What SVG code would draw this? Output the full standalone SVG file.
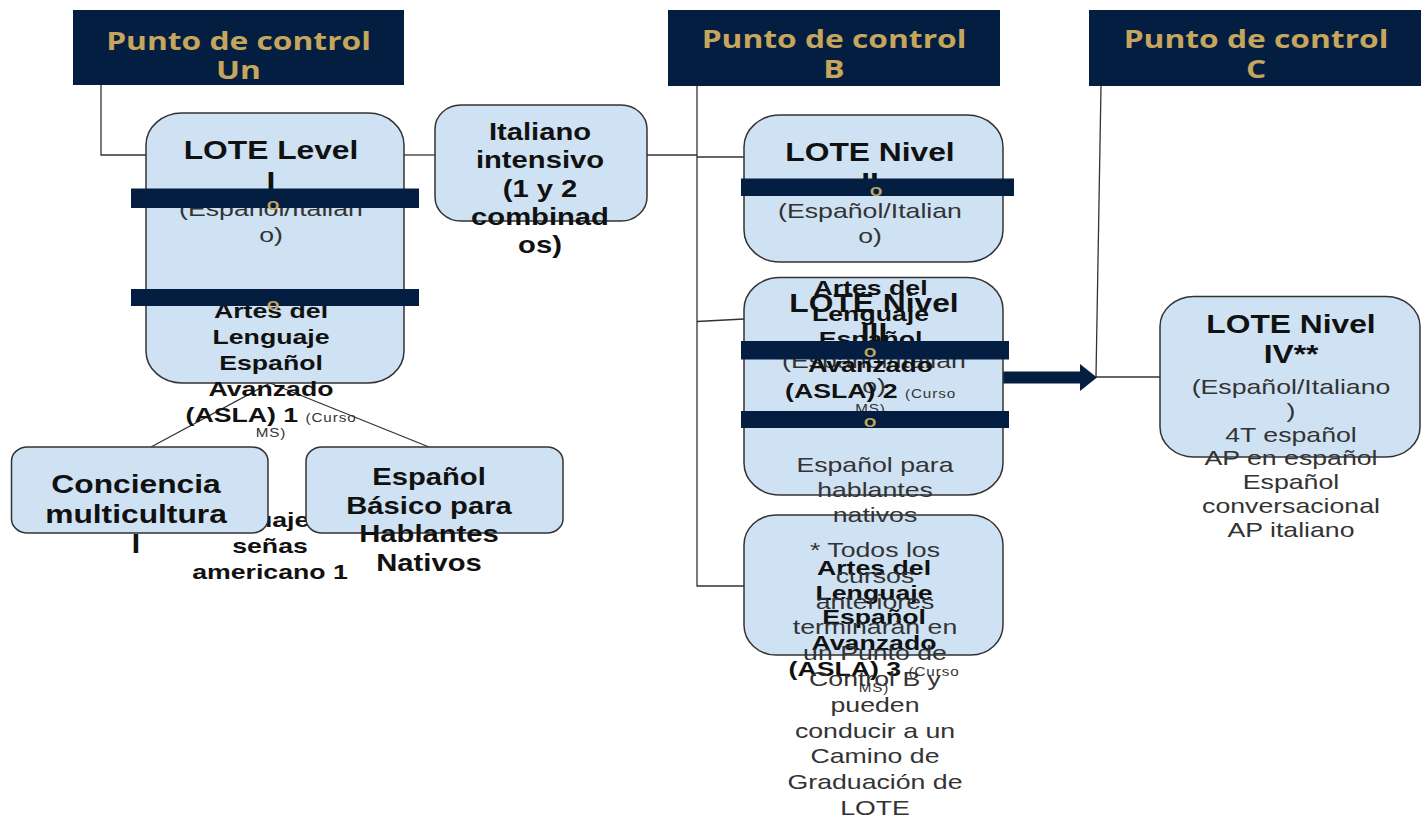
<svg xmlns="http://www.w3.org/2000/svg" width="1427" height="817" viewBox="0 0 1427 817">
<defs>
<style>
.hdr{fill:#041e42}
.bar{fill:#041e42}
.box{fill:#cfe2f3;stroke:#333;stroke-width:1.5}
.ln{stroke:#333;stroke-width:1.3;fill:none}
.ht{font-family:"Open Sans",sans-serif;font-weight:700;font-size:25px;fill:#c6a65c;text-anchor:middle}
.o{font-family:"Open Sans",sans-serif;font-weight:600;font-size:17px;fill:#c6a65c;text-anchor:middle}
.t25,.t23,.t21,.r21,.sm{font-family:"Liberation Sans",Arial,sans-serif;text-anchor:middle}
.t25{font-size:25px;font-weight:700;fill:#111}
.t23{font-size:23px;font-weight:700;fill:#111}
.t21{font-size:21px;font-weight:700;fill:#111}
.r21{font-size:21px;font-weight:400;fill:#333}
.sm{font-size:12px;font-weight:400;fill:#333;letter-spacing:0.7px}
</style>
<marker id="ah" markerUnits="userSpaceOnUse" markerWidth="17" markerHeight="27" refX="0" refY="13.5" orient="auto">
<path d="M0,0 L17,13.5 L0,27 Z" fill="#041e42"/>
</marker>
</defs>
<rect width="1427" height="817" fill="#fff"/>

<!-- headers -->
<g id="hdr-un">
<rect class="hdr" x="73" y="10" width="331" height="75"/>
<g transform="translate(238.5 0) scale(1.27 1)"><text class="ht" x="0" y="50">Punto de control</text><text class="ht" x="0" y="79">Un</text></g>
</g>
<g id="hdr-b">
<rect class="hdr" x="668" y="10" width="332" height="76"/>
<g transform="translate(834 0) scale(1.27 1)"><text class="ht" x="0" y="48.5">Punto de control</text><text class="ht" x="0" y="78.5">B</text></g>
</g>
<g id="hdr-c">
<rect class="hdr" x="1089" y="10" width="332" height="76"/>
<g transform="translate(1256 0) scale(1.27 1)"><text class="ht" x="0" y="48.5">Punto de control</text><text class="ht" x="0" y="78.5">C</text></g>
</g>

<!-- connectors -->
<g id="connectors">
<polyline class="ln" points="101,85 101,155 147,155"/>
<line class="ln" x1="404" y1="155" x2="435" y2="155"/>
<line class="ln" x1="647" y1="155" x2="697" y2="155"/>
<line class="ln" x1="697" y1="157" x2="744" y2="157"/>
<polyline class="ln" points="697,86 697,586 744,586"/>
<line class="ln" x1="697" y1="321.5" x2="744" y2="319"/>
<line class="ln" x1="1101" y1="86" x2="1096" y2="377"/>
<line class="ln" x1="1096" y1="377" x2="1160" y2="377"/>
<line class="ln" x1="270" y1="383" x2="151" y2="447"/>
<line class="ln" x1="270" y1="383" x2="429" y2="447"/>
<line x1="1003" y1="377.5" x2="1080" y2="377.5" stroke="#041e42" stroke-width="12" marker-end="url(#ah)"/>
</g>

<!-- ASL text partly hidden behind boxes -->
<g id="n-asl1">
<g transform="translate(270 0) scale(1.27 1)">
<text class="t21" x="0" y="527.5">Lenguaje de</text>
<text class="t21" x="0" y="553.3">señas</text>
<text class="t21" x="0" y="579">americano 1</text>
</g>
</g>

<g id="n-level1">
<rect class="box" x="146" y="113" width="258" height="270" rx="36" ry="32"/>
<g transform="translate(271 0) scale(1.27 1)">
<text class="t25" x="0" y="159.5">LOTE Level</text>
<text class="t25" x="0" y="190">I</text>
<text class="r21" x="0" y="216.5">(Español/Italian</text>
<text class="r21" x="0" y="241.7">o)</text>
</g>
</g>

<g id="n-asla1">
<g transform="translate(271 0) scale(1.27 1)">
<text class="t21" x="0" y="318.3">Artes del</text>
<text class="t21" x="0" y="344">Lenguaje</text>
<text class="t21" x="0" y="370">Español</text>
<text class="t21" x="0" y="396">Avanzado</text>
<text class="t21" x="0" y="421.7">(ASLA) 1 <tspan class="sm">(Curso</tspan></text>
<text class="sm" x="0" y="437.5">MS)</text>
</g>
</g>

<g id="n-italiano">
<rect class="box" x="435" y="105" width="212" height="116" rx="26" ry="24"/>
<g transform="translate(540 0) scale(1.27 1)">
<text class="t23" x="0" y="140">Italiano</text>
<text class="t23" x="0" y="168.3">intensivo</text>
<text class="t23" x="0" y="196.6">(1 y 2</text>
<text class="t23" x="0" y="224.9">combinad</text>
<text class="t23" x="0" y="253.2">os)</text>
</g>
</g>

<g id="n-conciencia">
<rect class="box" x="11.5" y="447" width="256.5" height="86" rx="16" ry="14"/>
<g transform="translate(136 0) scale(1.27 1)">
<text class="t25" x="0" y="493.3">Conciencia</text>
<text class="t25" x="0" y="523.3">multicultura</text>
<text class="t25" x="0" y="553.3">l</text>
</g>
</g>

<g id="n-basico">
<rect class="box" x="306" y="447" width="257" height="86" rx="16" ry="14"/>
<g transform="translate(429 0) scale(1.27 1)">
<text class="t23" x="0" y="485">Español</text>
<text class="t23" x="0" y="513.7">Básico para</text>
<text class="t23" x="0" y="542.3">Hablantes</text>
<text class="t23" x="0" y="571">Nativos</text>
</g>
</g>

<g id="n-nivel2">
<rect class="box" x="744" y="115" width="259" height="147" rx="36" ry="32"/>
<g transform="translate(870 0) scale(1.27 1)">
<text class="t25" x="0" y="160.7">LOTE Nivel</text>
<text class="t25" x="0" y="191">II</text>
<text class="r21" x="0" y="218.3">(Español/Italian</text>
<text class="r21" x="0" y="243.3">o)</text>
</g>
</g>

<g id="n-asla3">
<rect class="box" x="744" y="515" width="259" height="140" rx="32" ry="30"/>
<g transform="translate(874 0) scale(1.27 1)">
<text class="t21" x="0" y="575">Artes del</text>
<text class="t21" x="0" y="600">Lenguaje</text>
<text class="t21" x="0" y="624.5">Español</text>
<text class="t21" x="0" y="650">Avanzado</text>
<text class="t21" x="0" y="676">(ASLA) 3 <tspan class="sm">(Curso</tspan></text>
<text class="sm" x="0" y="692">MS)</text>
</g>
</g>

<g id="n-nivel3">
<rect class="box" x="744" y="277.5" width="259" height="217.5" rx="36" ry="32"/>
<g transform="translate(874 0) scale(1.27 1)">
<text class="t25" x="0" y="311.7">LOTE Nivel</text>
<text class="t25" x="0" y="341.5">III</text>
<text class="r21" x="0" y="368.5">(Español/Italian</text>
<text class="r21" x="0" y="393.5">o)</text>
</g>
<g transform="translate(875 0) scale(1.27 1)">
<text class="r21" x="0" y="471.7">Español para</text>
<text class="r21" x="0" y="497">hablantes</text>
<text class="r21" x="0" y="522.2">nativos</text>
<text class="r21" x="0" y="557">* Todos los</text>
<text class="r21" x="0" y="582.8">cursos</text>
<text class="r21" x="0" y="608.6">anteriores</text>
<text class="r21" x="0" y="634.4">terminarán en</text>
<text class="r21" x="0" y="660.2">un Punto de</text>
<text class="r21" x="0" y="686">Control B y</text>
<text class="r21" x="0" y="711.8">pueden</text>
<text class="r21" x="0" y="737.6">conducir a un</text>
<text class="r21" x="0" y="763.4">Camino de</text>
<text class="r21" x="0" y="789.2">Graduación de</text>
<text class="r21" x="0" y="815">LOTE</text>
</g>
</g>

<g id="n-asla2">
<g transform="translate(870.5 0) scale(1.27 1)">
<text class="t21" x="0" y="294.8">Artes del</text>
<text class="t21" x="0" y="320.6">Lenguaje</text>
<text class="t21" x="0" y="346.2">Español</text>
<text class="t21" x="0" y="372">Avanzado</text>
<text class="t21" x="0" y="398">(ASLA) 2 <tspan class="sm">(Curso</tspan></text>
<text class="sm" x="0" y="413">MS)</text>
</g>
</g>

<g id="n-nivel4">
<rect class="box" x="1160" y="296.5" width="260" height="160.5" rx="34" ry="30"/>
<g transform="translate(1291 0) scale(1.27 1)">
<text class="t25" x="0" y="333">LOTE Nivel</text>
<text class="t25" x="0" y="362.7">IV**</text>
<text class="r21" x="0" y="394">(Español/Italiano</text>
<text class="r21" x="0" y="418">)</text>
<text class="r21" x="0" y="441.7">4T español</text>
<text class="r21" x="0" y="465.5">AP en español</text>
<text class="r21" x="0" y="489.3">Español</text>
<text class="r21" x="0" y="513">conversacional</text>
<text class="r21" x="0" y="536.8">AP italiano</text>
</g>
</g>

<!-- dark bands with gold marks -->
<g id="bars">
<rect class="bar" x="131" y="188.5" width="288" height="19.5"/>
<rect class="bar" x="131" y="289" width="288" height="17"/>
<rect class="bar" x="741" y="178.5" width="273" height="17.5"/>
<rect class="bar" x="741" y="341" width="268" height="18.5"/>
<rect class="bar" x="741" y="411" width="268" height="17"/>
<g transform="translate(273 0) scale(1.27 1)"><text class="o" x="0" y="210.5">o</text><text class="o" x="0" y="310">o</text></g>
<g transform="translate(876 0) scale(1.27 1)"><text class="o" x="0" y="196.5">o</text></g>
<g transform="translate(870 0) scale(1.27 1)"><text class="o" x="0" y="357.5">o</text><text class="o" x="0" y="427">o</text></g>
</g>
</svg>
